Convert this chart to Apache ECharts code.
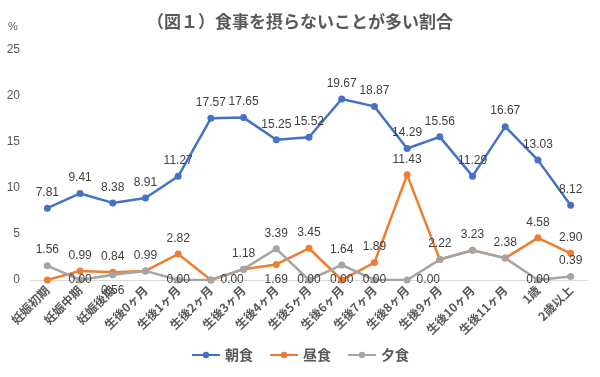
<!DOCTYPE html>
<html>
<head>
<meta charset="utf-8">
<script src="https://cdn.jsdelivr.net/npm/echarts@6/dist/echarts.min.js"></script>
<style>
  html, body { margin: 0; padding: 0; background: #fff; }
  #chart { width: 600px; height: 377px; }
</style>
</head>
<body>
<div id="chart"></div>
<script>
  const categories = ['妊娠初期', '妊娠中期', '妊娠後期', '生後0ヶ月', '生後1ヶ月', '生後2ヶ月', '生後3ヶ月', '生後4ヶ月',
    '生後5ヶ月', '生後6ヶ月', '生後7ヶ月', '生後8ヶ月', '生後9ヶ月', '生後10ヶ月', '生後11ヶ月', '1歳', '2歳以上'];
  const breakfast = [7.81, 9.41, 8.38, 8.91, 11.27, 17.57, 17.65, 15.25, 15.52, 19.67, 18.87, 14.29, 15.56, 11.29, 16.67, 13.03, 8.12];
  const lunch = [0.00, 0.99, 0.84, 0.99, 2.82, 0.00, 1.18, 1.69, 3.45, 0.00, 1.89, 11.43, 2.22, 3.23, 2.38, 4.58, 2.90];
  const dinner = [1.56, 0.00, 0.56, 0.99, 0.00, 0.00, 1.18, 3.39, 0.00, 1.64, 0.00, 0.00, 2.22, 3.23, 2.38, 0.00, 0.39];
  const yTicks = [0, 5, 10, 15, 20, 25];

  // label placement tweaks (index -> position / hidden)
  const lunchPos = {7: 'bottom', 9: 'inside'};
  const lunchHide = [0, 3, 5, 6, 12, 13, 14];
  const dinnerPos = {1: 'inside', 2: 'bottom', 4: 'inside', 5: 'right', 8: 'inside', 10: 'inside', 11: 'right', 15: 'inside'};

  function withLabels(values, pos, hide) {
    return values.map(function (v, i) {
      const item = {value: v, label: {}};
      if (pos[i]) item.label.position = pos[i];
      if (hide.indexOf(i) >= 0) item.label.show = false;
      return item;
    });
  }

  const labelStyle = {
    show: true,
    position: 'top',
    distance: 6,
    color: '#404040',
    fontSize: 12,
    fontFamily: 'Liberation Sans',
    formatter: function (p) { return p.value.toFixed(2); }
  };

  let myChart = echarts.init(document.getElementById('chart'));
  myChart.setOption({
    animation: false,
    title: {
      text: '（図１）食事を摂らないことが多い割合',
      left: 'center',
      top: 8,
      textStyle: {color: '#595959', fontSize: 17, fontWeight: 'bold', fontFamily: 'Noto Sans CJK JP'}
    },
    graphic: [{
      type: 'text', left: 8, top: 21,
      style: {text: '%', fill: '#595959', font: '11px Liberation Sans'}
    }],
    legend: {
      bottom: 10,
      itemGap: 16,
      itemWidth: 28,
      itemHeight: 8,
      textStyle: {color: '#595959', fontSize: 14, fontWeight: 'bold', fontFamily: 'Noto Sans CJK JP'},
      data: ['朝食', '昼食', '夕食']
    },
    grid: {left: 31, right: 13, top: 50, bottom: 97},
    xAxis: {
      type: 'category',
      data: categories,
      axisTick: {show: false},
      axisLine: {lineStyle: {color: '#d9d9d9', width: 1}},
      axisLabel: {
        interval: 0,
        rotate: 45,
        margin: 8,
        color: '#595959',
        fontSize: 12,
        fontWeight: 'bold',
        fontFamily: 'Noto Sans CJK JP'
      }
    },
    yAxis: {
      type: 'value',
      min: yTicks[0],
      max: yTicks[yTicks.length - 1],
      interval: 5,
      axisLine: {show: false},
      axisTick: {show: false},
      splitLine: {show: false},
      axisLabel: {margin: 11, color: '#595959', fontSize: 12, fontFamily: 'Liberation Sans'}
    },
    series: [
      {
        name: '朝食', type: 'line', data: breakfast,
        symbol: 'circle', symbolSize: 7,
        itemStyle: {color: '#4472C4'},
        lineStyle: {width: 2.5, color: '#4472C4'},
        label: labelStyle
      },
      {
        name: '昼食', type: 'line', data: withLabels(lunch, lunchPos, lunchHide),
        symbol: 'circle', symbolSize: 7,
        itemStyle: {color: '#ED7D31'},
        lineStyle: {width: 2.5, color: '#ED7D31'},
        label: labelStyle
      },
      {
        name: '夕食', type: 'line', data: withLabels(dinner, dinnerPos, []),
        symbol: 'circle', symbolSize: 7,
        itemStyle: {color: '#A5A5A5'},
        lineStyle: {width: 2.5, color: '#A5A5A5'},
        label: labelStyle
      }
    ]
  });
</script>
</body>
</html>
